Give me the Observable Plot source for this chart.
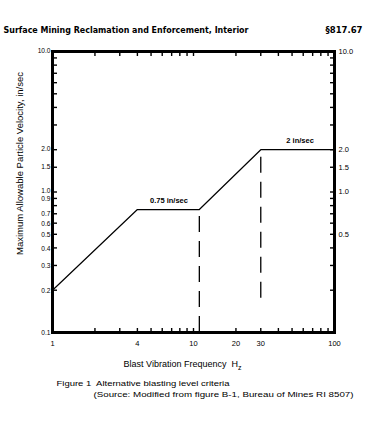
<!DOCTYPE html>
<html>
<head>
<meta charset="utf-8">
<script src="https://cdn.jsdelivr.net/npm/d3@7"></script>
<script src="https://cdn.jsdelivr.net/npm/@observablehq/plot@0.6"></script>
<style>
  html, body { margin: 0; padding: 0; background: #fff; }
  #chart { width: 380px; height: 427px; }
</style>
</head>
<body>
<div id="chart"></div>
<script>
// ---- data ----
const headerLeft = ["Surface Mining Reclamation and Enforcement, Interior"];
const headerRight = ["§817.67"];
const yTitle = ["Maximum Allowable Particle Velocity, in/sec"];
const xTitle = ["Blast Vibration Frequency  H"];
const xTitleSub = "z";
const caption1 = ["Figure 1  Alternative blasting level criteria"];
const caption2 = ["(Source: Modified from figure B-1, Bureau of Mines RI 8507)"];

const freq = [1, 4, 11, 30, 100];
const velocity = [0.2, 0.75, 0.75, 2.0, 2.0];

const dashFreq = [11, 30];
const dashTop = [0.75, 2.0];
const dashBottom = [0.1, 0.175];

const labelFreq = [6.7, 57];
const labelVel = [0.75, 2.0];
const labelText = ["0.75 in/sec", "2 in/sec"];

const yTickLabelsLeftUpper = [10, 2, 1.5, 1];
const yTickLabelsLeftLower = [0.9, 0.7, 0.6, 0.5, 0.4, 0.3, 0.2, 0.1];
const yTickLabelsRight = [10, 2, 1.5, 1, 0.5];
const yMinorTicks = [0.1, 0.2, 0.3, 0.4, 0.5, 0.6, 0.7, 0.8, 0.9, 1, 1.5, 2, 3, 4, 5, 6, 7, 8, 9, 10];
const xTickLabels = [1, 4, 10, 20, 30, 100];
const xMinorTicks = [1, 2, 3, 4, 5, 6, 7, 8, 9, 10, 20, 30, 40, 50, 60, 70, 80, 90, 100];

// ---- build ----
const series = freq.map((f, i) => ({f, v: velocity[i]}));
const dashes = dashFreq.map((f, i) => ({f, top: dashTop[i], bottom: dashBottom[i]}));
const labels = labelFreq.map((f, i) => ({f, v: labelVel[i], text: labelText[i]}));
const fmt1 = d3.format(".1f");
const blank = () => "";
const FONT = "'Liberation Sans', Arial, sans-serif";
const HFONT = "'DejaVu Sans', sans-serif";

const chart = Plot.plot({
  width: 380,
  height: 427,
  marginLeft: 52,
  marginRight: 46,
  marginTop: 51,
  marginBottom: 95,
  style: {fontFamily: FONT, background: "#fff", color: "#000"},
  x: {type: "log", domain: [1, 100]},
  y: {type: "log", domain: [0.1, 10]},
  marks: [
    // tick marks (inward)
    Plot.axisY({ticks: yMinorTicks, anchor: "left", tickSize: -5, tickFormat: blank, label: null, strokeWidth: 1.4}),
    Plot.axisY({ticks: yMinorTicks, anchor: "right", tickSize: -5, tickFormat: blank, label: null, strokeWidth: 1.4}),
    Plot.axisX({ticks: xMinorTicks, anchor: "bottom", tickSize: -4, tickFormat: blank, label: null, strokeWidth: 1.4}),
    Plot.axisX({ticks: xMinorTicks, anchor: "top", tickSize: -4, tickFormat: blank, label: null, strokeWidth: 1.4}),
    // tick labels
    Plot.text(yTickLabelsLeftUpper, {y: d => d, text: fmt1, frameAnchor: "left", textAnchor: "end", lineAnchor: "middle", dx: -2, dy: -0.8, fontSize: 6.6}),
    Plot.text(yTickLabelsLeftLower, {y: d => d, text: fmt1, frameAnchor: "left", textAnchor: "end", lineAnchor: "middle", dx: -2, dy: 0.6, fontSize: 6.6}),
    Plot.text(yTickLabelsRight, {y: d => d, text: fmt1, frameAnchor: "right", textAnchor: "start", lineAnchor: "middle", dx: 4, fontSize: 7.5}),
    Plot.text(xTickLabels, {x: d => d, text: d3.format("d"), frameAnchor: "bottom", textAnchor: "middle", lineAnchor: "middle", dy: 11, fontSize: 7.5}),
    // criteria curve
    Plot.line(series, {x: "f", y: "v", stroke: "#000", strokeWidth: 1.2}),
    Plot.ruleX(dashes, {x: "f", y1: "bottom", y2: "top", stroke: "#000", strokeWidth: 1.3, strokeDasharray: "16,9"}),
    Plot.text(labels, {x: "f", y: "v", text: "text", dy: -9, fontSize: 7.5, fontWeight: "bold", fill: "#000"}),
    // frame
    Plot.frame({stroke: "#000", strokeWidth: 3}),
    // texts around the frame
    Plot.text(headerLeft, {text: d => d, frameAnchor: "top-left", textAnchor: "start", lineAnchor: "middle", dx: -49, dy: -21.5, fontSize: 9, fontWeight: "bold", fontFamily: HFONT}),
    Plot.text(headerRight, {text: d => d, frameAnchor: "top-right", textAnchor: "end", lineAnchor: "middle", dx: 28, dy: -21.5, fontSize: 9, fontWeight: "bold", fontFamily: HFONT}),
    Plot.text(yTitle, {text: d => d, frameAnchor: "left", rotate: -90, textAnchor: "middle", lineAnchor: "middle", dx: -32, dy: -28.5, fontSize: 8.5}),
    Plot.text(xTitle, {text: d => d, frameAnchor: "bottom", textAnchor: "middle", lineAnchor: "middle", dx: -11, dy: 32, fontSize: 9}),
    Plot.text(caption1, {text: d => d, frameAnchor: "bottom-left", textAnchor: "start", lineAnchor: "middle", dx: 4, dy: 51, fontSize: 7.5}),
    Plot.text(caption2, {text: d => d, frameAnchor: "bottom-left", textAnchor: "start", lineAnchor: "middle", dx: 41, dy: 62, fontSize: 8})
  ]
});

document.getElementById("chart").appendChild(chart);

// fit text widths to the reference
const svg = d3.select(chart);
function byText(s) {
  return svg.selectAll("text").filter(function() { return this.textContent === s; });
}
function fit(s, len) {
  byText(s).attr("textLength", len).attr("lengthAdjust", "spacingAndGlyphs");
}
fit(headerLeft[0], 245);
fit(headerRight[0], 37);
fit(yTitle[0], 183);
fit(caption1[0], 173);
fit(caption2[0], 260);
// subscript z in the x title
byText(xTitle[0]).each(function() {
  d3.select(this).append("tspan").attr("dy", "0.35em").attr("font-size", "7").text(xTitleSub);
});
</script>
</body>
</html>
